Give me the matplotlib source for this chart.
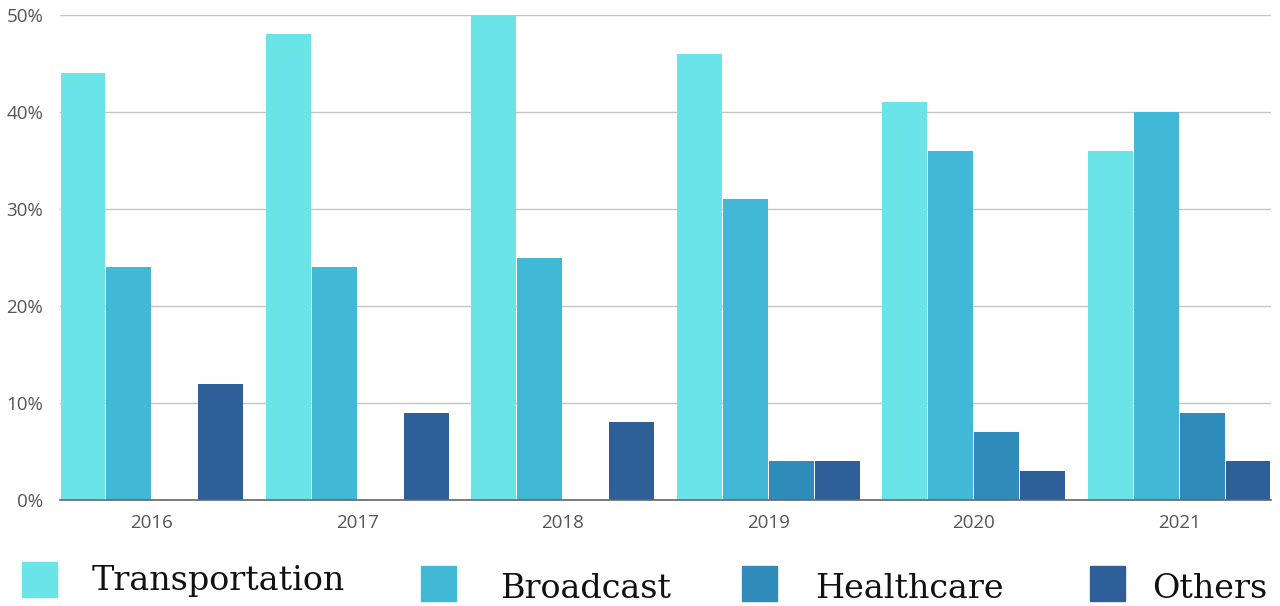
import matplotlib
matplotlib.use("Agg")
import matplotlib.pyplot as plt
from matplotlib.patches import Rectangle
import numpy as np

years = ["2016", "2017", "2018", "2019", "2020", "2021"]
series_names = ["Transportation", "Broadcast", "Healthcare", "Others"]
transportation = [44, 48, 50, 46, 41, 36]
broadcast = [24, 24, 25, 31, 36, 40]
healthcare = [0, 0, 0, 4, 7, 9]
others = [12, 9, 8, 4, 3, 4]
colors = ["#6BE4E8", "#42B8D7", "#2E8BBA", "#2E5F98"]
y_ticks = [0, 10, 20, 30, 40, 50]

W, H = 1280, 606
fig = plt.figure(figsize=(W / 100, H / 100), dpi=100)
ax = fig.add_axes([60 / W, 1 - 500 / H, (1271 - 60) / W, (500 - 15) / H])

x = np.arange(len(years))
step = 0.2235
width = 0.218
for k, vals in enumerate([transportation, broadcast, healthcare, others]):
    offs = (k - 1.5) * step
    ax.bar(x + offs, vals, width=width, color=colors[k], zorder=3)

ax.set_xlim(-2 * step, len(years) - 1 + 2 * step)
ax.set_ylim(0, 50)
ax.set_yticks(y_ticks)
ax.set_yticklabels([f"{v}%" for v in y_ticks])
ax.set_xticks(x)
ax.set_xticklabels(years)
ax.grid(axis="y", color="#c4c4c4", linewidth=1, zorder=0)
for s in ["top", "right", "left"]:
    ax.spines[s].set_visible(False)
ax.spines["bottom"].set_color("#666666")
ax.spines["bottom"].set_linewidth(1.2)
ax.spines["bottom"].set_zorder(4)
ax.tick_params(axis="both", length=0, labelsize=13.5, colors="#555555",
               labelfontfamily="Open Sans")
ax.tick_params(axis="x", pad=10)
ax.tick_params(axis="y", pad=12)

# Legend laid out along the bottom: (square left, square right, text left, square top, text baseline)
legend_items = [
    (22, 57, 92, 562, 590),
    (421, 456, 500, 566, 598),
    (742, 777, 815, 566, 598),
    (1090, 1125, 1152, 566, 598),
]
for (sx0, sx1, tx, sy, base), name, c in zip(legend_items, series_names, colors):
    fig.patches.append(Rectangle((sx0 / W, 1 - (sy + 35) / H), (sx1 - sx0) / W, 35 / H,
                                 transform=fig.transFigure, color=c))
    fig.text(tx / W, 1 - base / H, name, fontsize=24,
             family="DejaVu Serif", va="baseline", ha="left", color="#111111")

fig.savefig("out.png", dpi=100)
